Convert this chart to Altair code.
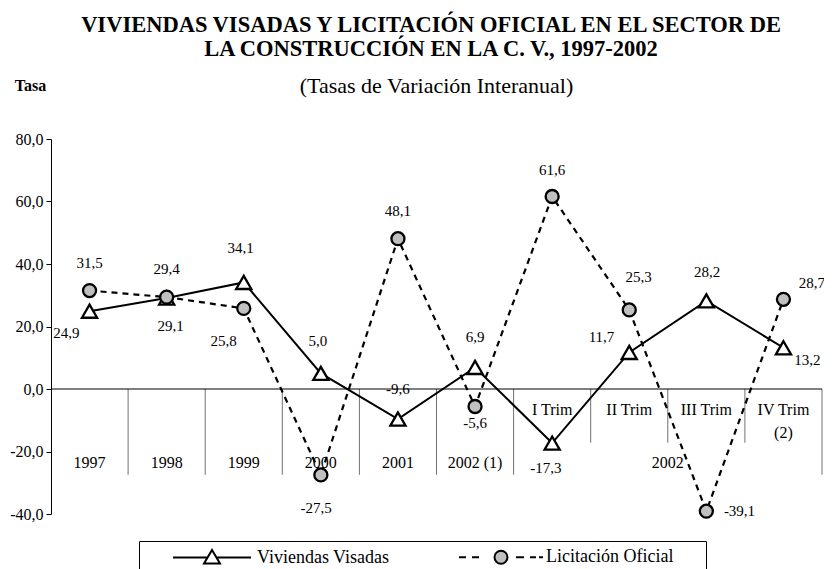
import altair as alt
import pandas as pd

# ---------------- data ----------------
categorias = ["1997", "1998", "1999", "2000", "2001", "2002 (1)",
              "I Trim", "II Trim", "III Trim", "IV Trim"]
es_trimestre = [False, False, False, False, False, False, True, True, True, True]
notas = ["", "", "", "", "", "", "", "", "", "(2)"]
grupo_trimestres = "2002"

series = ["Viviendas Visadas", "Licitación Oficial"]
viviendas = [24.9, 29.1, 34.1, 5.0, -9.6, 6.9, -17.3, 11.7, 28.2, 13.2]
licitacion = [31.5, 29.4, 25.8, -27.5, 48.1, -5.6, 61.6, 25.3, -39.1, 28.7]

# label placement shifts (category units / value units)
viv_lab_dx = [-0.3, 0.05, -0.04, -0.04, 0.0, 0.0, -0.08, -0.36, 0.01, 0.31]
viv_lab_dy = [-7.0, -8.9, 10.9, 10.5, 9.6, 9.6, -8.0, 4.8, 9.3, -3.8]
lic_lab_dx = [0.0, 0.0, -0.26, -0.06, 0.0, 0.0, 0.0, 0.12, 0.43, 0.37]
lic_lab_dy = [8.9, 8.9, -10.5, -10.5, 8.9, -5.4, 8.6, 10.5, 0.0, 5.1]

y_ticks = [-40, -20, 0, 20, 40, 60, 80]

# ---------------- layout constants ----------------
FONT = "Liberation Serif"
Y_ANUAL = -23.6      # row of annual category labels
Y_TRIM = -6.7        # row of quarter labels
Y_NOTA = -14.0       # row of footnote marks
SEP_LARGO = -27.45   # depth of long separators
SEP_CORTO = -17.2    # depth of separators between quarters

n = len(categorias)
X_SCALE = alt.Scale(domain=[-0.5, n - 0.5], nice=False, zero=False)
Y_SCALE = alt.Scale(domain=[-40, 80], nice=False, zero=False)

puntos = pd.DataFrame({
    "idx": list(range(n)) * 2,
    "serie": [series[0]] * n + [series[1]] * n,
    "valor": viviendas + licitacion,
})
puntos["lab_x"] = puntos["idx"] + pd.Series(viv_lab_dx + lic_lab_dx)
puntos["lab_y"] = puntos["valor"] + pd.Series(viv_lab_dy + lic_lab_dy)

cats = pd.DataFrame({"idx": range(n), "cat": categorias, "nota": notas})
cats["y"] = [Y_TRIM if t else Y_ANUAL for t in es_trimestre]
cats["y_nota"] = Y_NOTA

seps = pd.DataFrame({"xb": [i + 0.5 for i in range(n)]})
seps["y0"] = 0.0
seps["y2"] = [SEP_CORTO if (es_trimestre[i] and i + 1 < n and es_trimestre[i + 1]) else SEP_LARGO
              for i in range(n)]

cero = pd.DataFrame({"x0": [-0.5], "x1": [n - 0.5], "y0": [0.0]})

q_idx = [i for i in range(n) if es_trimestre[i]]
grupo = pd.DataFrame({"x": [sum(q_idx) / len(q_idx)], "y": [Y_ANUAL], "t": [grupo_trimestres]})

fmt = "replace(replace(format(datum.valor, '.1f'), '.', ','), '\u2212', '-')"
fmt_axis = "replace(replace(format(datum.value, '.1f'), '.', ','), '\u2212', '-')"

y_axis = alt.Axis(values=y_ticks, labelExpr=fmt_axis, grid=False, tickSize=5,
                  labelPadding=3, labelFont=FONT, labelFontSize=16, labelColor="black",
                  domainColor="black", tickColor="black", title="Tasa", titleAngle=0,
                  titleX=-21, titleY=-54, titleAlign="center", titleBaseline="middle",
                  titleFont=FONT, titleFontSize=16, titleFontWeight="bold", titleColor="black")

base_x = alt.X("idx:Q", scale=X_SCALE, axis=None)

separadores = alt.Chart(seps).mark_rule(color="#707070", strokeWidth=1).encode(
    x=alt.X("xb:Q", scale=X_SCALE, axis=None),
    y=alt.Y("y0:Q", scale=Y_SCALE, axis=y_axis),
    y2="y2:Q",
)

linea_cero = alt.Chart(cero).mark_rule(color="black", strokeWidth=1).encode(
    x=alt.X("x0:Q", scale=X_SCALE, axis=None),
    x2="x1:Q",
    y=alt.Y("y0:Q", scale=Y_SCALE),
)

linea_lic = alt.Chart(puntos).transform_filter(
    alt.datum.serie == series[1]).mark_line(color="black", strokeWidth=2.2, strokeDash=[6, 5]).encode(
    x=base_x, y=alt.Y("valor:Q", scale=Y_SCALE))
linea_viv = alt.Chart(puntos).transform_filter(
    alt.datum.serie == series[0]).mark_line(color="black", strokeWidth=2).encode(
    x=base_x, y=alt.Y("valor:Q", scale=Y_SCALE))

tri = alt.Chart(puntos).transform_filter(alt.datum.serie == series[0]).mark_point(
    shape="triangle-up", filled=True, fill="white", stroke="black", strokeWidth=2.3,
    size=230, opacity=1).encode(x=base_x, y=alt.Y("valor:Q", scale=Y_SCALE))
cir = alt.Chart(puntos).transform_filter(alt.datum.serie == series[1]).mark_point(
    shape="circle", filled=True, fill="#c0c0c0", stroke="black", strokeWidth=2.3,
    size=170, opacity=1).encode(x=base_x, y=alt.Y("valor:Q", scale=Y_SCALE))

etiquetas = alt.Chart(puntos).transform_calculate(texto=fmt).mark_text(
    font=FONT, fontSize=15, color="black", baseline="middle", align="center").encode(
    x=alt.X("lab_x:Q", scale=X_SCALE, axis=None),
    y=alt.Y("lab_y:Q", scale=Y_SCALE),
    text="texto:N")

cat_text = alt.Chart(cats).mark_text(font=FONT, fontSize=16, color="black",
                                     baseline="middle", align="center").encode(
    x=base_x, y=alt.Y("y:Q", scale=Y_SCALE), text="cat:N")
nota_text = alt.Chart(cats).mark_text(font=FONT, fontSize=16, color="black",
                                      baseline="middle", align="center").encode(
    x=base_x, y=alt.Y("y_nota:Q", scale=Y_SCALE), text="nota:N")
grupo_text = alt.Chart(grupo).mark_text(font=FONT, fontSize=16, color="black",
                                        baseline="middle", align="center").encode(
    x=alt.X("x:Q", scale=X_SCALE, axis=None), y=alt.Y("y:Q", scale=Y_SCALE), text="t:N")

# legend symbols: line + marker (custom paths, unit = sqrt(size)/2 px = 10 px)
SIMB_VIV = "M-3.9,0L-0.45,0M0.45,0L3.9,0M0,-0.76L0.8,0.6L-0.8,0.6Z"
SIMB_LIC = ("M-4.2,0L-3.5,0M-2.9,0L-2.2,0"
            "M0.65,0A0.65 0.65 0 1 1 -0.65,0A0.65 0.65 0 1 1 0.65,0Z"
            "M1.5,0L2.3,0M2.9,0L3.5,0M3.8,0L4.2,0")

NBSP = "\u00a0"
ZWSP = "\u200b"   # keeps the spacing from being trimmed
LEG = alt.Legend(orient="none", legendX=88, legendY=402, direction="horizontal", columns=2,
                 gridAlign="each",
                 title=NBSP, titleOrient="left", titlePadding=57, titleFontSize=8,
                 padding=5, strokeColor="black", fillColor="white",
                 symbolSize=400, symbolStrokeWidth=2, symbolStrokeColor="black",
                 labelFont=FONT, labelFontSize=18, labelColor="black", labelOffset=34,
                 columnPadding=65, labelLimit=500,
                 labelExpr="indexof(datum.label, 'Licita') >= 0 ? datum.label + '"
                           + NBSP * 6 + ZWSP + "' : datum.label")

leyenda = alt.Chart(pd.DataFrame({"leyenda": series})).transform_filter("false").mark_point(
    filled=True, opacity=1, strokeWidth=2).encode(
    x=alt.X("idx:Q", scale=X_SCALE, axis=None),
    shape=alt.Shape("leyenda:N", scale=alt.Scale(domain=series, range=[SIMB_VIV, SIMB_LIC]), legend=LEG),
    fill=alt.Fill("leyenda:N", scale=alt.Scale(domain=series, range=["white", "#c0c0c0"]), legend=LEG),
    stroke=alt.Stroke("leyenda:N", scale=alt.Scale(domain=series, range=["black", "black"]), legend=LEG),
)

chart = alt.layer(
    separadores, linea_cero, cat_text, nota_text, grupo_text, etiquetas,
    linea_lic, linea_viv, tri, cir, leyenda
).properties(
    width=771, height=375,
    autosize=alt.AutoSizeParams(type="none"),
    padding={"left": 43, "top": 131, "right": 2, "bottom": 62},
    title=alt.TitleParams(
        text=["VIVIENDAS VISADAS Y LICITACIÓN OFICIAL EN EL SECTOR DE",
              "LA CONSTRUCCIÓN EN LA C. V., 1997-2002"],
        subtitle=ZWSP + NBSP * 2 + "(Tasas de Variación Interanual)",
        font=FONT, fontSize=22.5, fontWeight="bold", color="black", lineHeight=24,
        subtitleFont=FONT, subtitleFontSize=22, subtitleColor="black", subtitlePadding=16,
        anchor="middle", frame="group", dx=-5.5, offset=-20),
).configure_view(stroke=None)

chart.save("out.html", embed_options={"renderer": "svg", "actions": False})
